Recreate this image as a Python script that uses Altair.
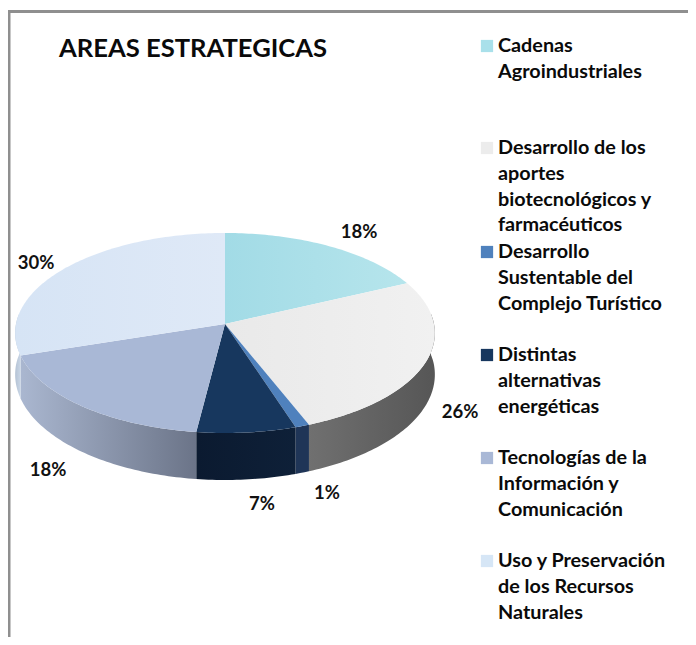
import math
import altair as alt

categories = ["Cadenas Agroindustriales", "Desarrollo de los aportes biotecnológicos y farmacéuticos",
              "Desarrollo Sustentable del Complejo Turístico", "Distintas alternativas energéticas",
              "Tecnologías de la Información y Comunicación", "Uso y Preservación de los Recursos Naturales"]
shares = [18, 26, 1, 7, 18, 30]
pct_labels = ["18%", "26%", "1%", "7%", "18%", "30%"]
legend_lines = [["Cadenas", "Agroindustriales"],
                ["Desarrollo de los", "aportes", "biotecnológicos y", "farmacéuticos"],
                ["Desarrollo", "Sustentable del", "Complejo Turístico"],
                ["Distintas", "alternativas", "energéticas"],
                ["Tecnologías de la", "Información y", "Comunicación"],
                ["Uso y Preservación", "de los Recursos", "Naturales"]]

# styles / layout (page px minus the 8px margin)
W, H = 680, 629
CX, CY, RX, RY, K = 217, 316, 209, 99.2, 0.09
top_fill = [("#a2dbe6", "#b6e5ec"), ("#e9e9e9", "#f1f1f1"), ("#4f81bd", "#4f81bd"),
            ("#17375e", "#17375e"), ("#a9b8d6", "#a9b8d6"), ("#d6e4f5", "#dfe9f7")]
wall_fill = [("#5a5a5a", "#5a5a5a"), ("#707070", "#565656"), ("#1f3557", "#1f3557"),
             ("#0b1a30", "#0e2038"), ("#aab7d0", "#6b7488"), ("#b4c2d4", "#c9d6e6")]
swatch = ["#a9e0ea", "#ececec", "#4f81bd", "#17375e", "#a9b8d6", "#d6e6f6"]
legend_tops = [38, 140, 244, 347, 450, 553]
label_pos = [(351, 224), (452, 404), (319, 485), (254, 496), (40, 462), (28, 255)]
LINE = 25.8


def rim(a):
    r = math.radians(a)
    u, v = math.sin(r), math.cos(r)
    d = 1 + K * v
    return CX + RX * u / d, CY - RY * v / d, v


def steps(a, b):
    n = max(2, int(abs(b - a)) + 1)
    return [a + (b - a) * i / (n - 1) for i in range(n)]


def feature(coords, name):
    ring = [[round(x, 2), round(y, 2)] for x, y in coords]
    ring.append(ring[0])
    return {"type": "Feature", "properties": {"name": name},
            "geometry": {"type": "Polygon", "coordinates": [ring]}}


def grad(pair):
    return alt.Gradient(gradient="linear", x1=0, x2=1, y1=0, y2=0,
                        stops=[alt.GradientStop(color=pair[0], offset=0),
                               alt.GradientStop(color=pair[1], offset=1)])


def shape(poly, name, pair):
    return (alt.Chart(alt.Data(values=[feature(poly, name)]))
            .mark_geoshape(fill=grad(pair), strokeWidth=0)
            .project(type="identity", scale=1, translate=[0, 0]))


x_px = alt.X("x:Q", scale=None, axis=None)
y_px = alt.Y("y:Q", scale=None, axis=None)

layers = []
# frame
frame = [{"x": 1, "y": H, "o": 0}, {"x": 1, "y": 3.5, "o": 1}, {"x": W, "y": 3.5, "o": 2}]
layers.append(alt.Chart(alt.Data(values=frame))
              .mark_line(color="#8f8f8f", strokeWidth=3)
              .encode(x=x_px, y=y_px, order="o:Q"))

# side walls, then top faces
start = 0
ranges = []
for s in shares:
    ranges.append((start, start + s * 3.6))
    start += s * 3.6

for i, (a, b) in enumerate(ranges):
    lo, hi = max(a, 84), min(b, 276)
    if hi <= lo:
        continue
    upper = [rim(t) for t in steps(lo, hi)]
    lower = [(x, y + 41 - 6 * min(v, 0)) for x, y, v in reversed(upper)]
    poly = [(x, y) for x, y, _ in upper] + lower
    layers.append(shape(poly, categories[i], wall_fill[i]))

for i, (a, b) in enumerate(ranges):
    poly = [(CX, CY)] + [rim(t)[:2] for t in steps(a, b)]
    layers.append(shape(poly, categories[i], top_fill[i]))

# percent labels
rows = [{"x": p[0], "y": p[1], "t": t} for p, t in zip(label_pos, pct_labels)]
layers.append(alt.Chart(alt.Data(values=rows))
              .mark_text(font="Lato", fontWeight="bold", fontSize=18.5, color="#111111")
              .encode(x=x_px, y=y_px, text="t:N"))

# title
layers.append(alt.Chart(alt.Data(values=[{"x": 51, "y": 41, "t": "AREAS ESTRATEGICAS"}]))
              .mark_text(font="Lato", fontWeight="bold", fontSize=25.6, align="left", color="#0a0a0a")
              .encode(x=x_px, y=y_px, text="t:N"))

# legend
sq = [{"x": 479, "y": t, "c": c} for t, c in zip(legend_tops, swatch)]
layers.append(alt.Chart(alt.Data(values=sq))
              .mark_square(size=150, opacity=1)
              .encode(x=x_px, y=y_px, color=alt.Color("c:N", scale=None)))
text_rows = []
for t, lines in zip(legend_tops, legend_lines):
    for j, ln in enumerate(lines):
        text_rows.append({"x": 490, "y": t + j * LINE, "t": ln})
layers.append(alt.Chart(alt.Data(values=text_rows))
              .mark_text(font="Lato", fontWeight="bold", fontSize=19.8, align="left", color="#0a0a0a")
              .encode(x=x_px, y=y_px, text="t:N"))

chart = alt.layer(*layers).properties(
    width=W, height=H, padding=0, autosize=alt.AutoSizeParams(type="none")
).configure_view(stroke=None)

chart.save("out.html", embed_options={"renderer": "svg", "actions": False})
